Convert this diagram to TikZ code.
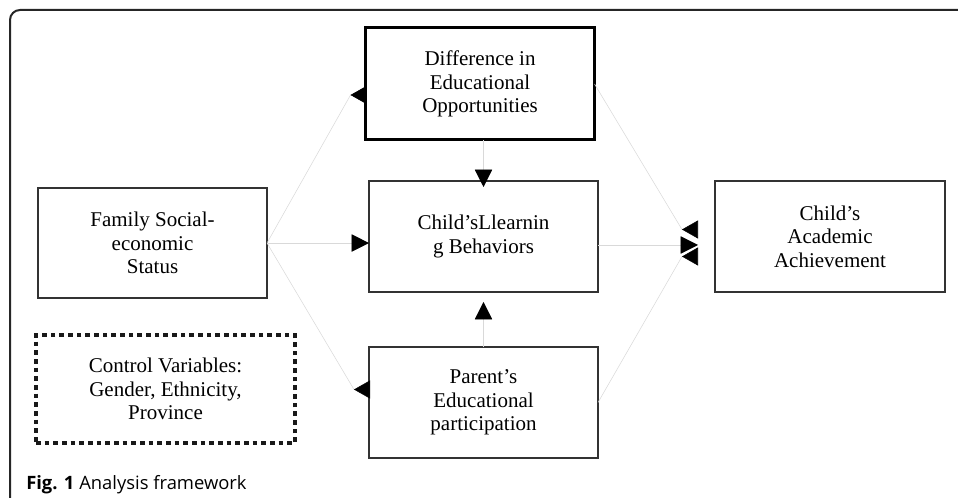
\documentclass[tikz,border=0pt]{standalone}
\usepackage{fontspec}
\setmainfont{Liberation Serif}
\newfontfamily\capfont{Open Sans}
\usetikzlibrary{arrows.meta, positioning, calc}
\tikzset{%
	box/.style={draw=black!80, line width=0.9pt, rectangle, minimum width=171.75pt,%
		minimum height=83.25pt, inner sep=0pt, outer sep=0pt, align=center,%
		font=\fontsize{15.75pt}{17.5pt}\selectfont},
	thickbox/.style={box, draw=black, line width=2.25pt, minimum height=84pt},
	ctrlbox/.style={box, draw=black!90, line width=2.5pt, dash pattern=on 3.5pt off 3pt,%
		minimum width=194.25pt, minimum height=81pt},
	connector/.style={draw=black!15, line width=0.4pt},
	fwd/.style={connector, -{Triangle[length=13pt, width=13pt, color=black]}},
	bwd/.style={connector, -{Triangle[reversed, length=12pt, width=13.5pt, color=black]}},
	frame/.style={draw=black!85, line width=1.5pt, rounded corners=7.5pt},
	caption/.style={font=\capfont\fontsize{13.8pt}{16pt}\selectfont, inner sep=0pt, anchor=west}
}
\begin{document}
\begin{tikzpicture}[x=0.75pt, y=-0.75pt]
	\clip (0,0) rectangle (958,498);
	\draw[frame] (10,10) rectangle (990,530);

	\node[box] (learn) at (483.5,236.5) {Child's\/Llearnin\\g Behaviors};
	\node[thickbox, above=30.75pt of learn, xshift=-2.6pt] (diff) {Difference in\\Educational\\Opportunities};
	\node[box, below=41.25pt of learn] (par) {Parent's\\Educational\\participation};
	\node[box, right=87.75pt of learn, minimum width=172.5pt] (acad) {Child's\\Academic\\Achievement};
	\node[box, left=76.5pt of learn, yshift=-4.9pt, minimum height=82.5pt] (fam) {Family Social-\\economic\\Status};
	\node[ctrlbox, below=27.75pt of fam, xshift=9.75pt] (ctrl) {Control Variables:\\Gender, Ethnicity,\\Province};
	\node[caption] (cap) at (26,485) {\textbf{Fig. 1} Analysis framework};

	% arrow ends in front of the outcome box
	\coordinate (a1) at ($(acad.west)+(-17,-7)$);
	\coordinate (a2) at ($(acad.west)+(-17,8.5)$);
	\coordinate (a3) at ($(acad.west)+(-17,20)$);

	\draw[bwd] (fam.east) -- ($(diff.west)+(-15,11)$) -- ($(diff.west)+(1,11)$);
	\draw[fwd] (fam.east) -- (fam.east -| learn.west);
	\draw[bwd] (fam.east) -- ($(par.west)+(-15,-13)$) -- ($(par.west)+(1,-13)$);
	\draw[fwd, shorten >=-4.5pt] (learn.north |- diff.south) -- (learn.north);
	\draw[fwd, shorten >=7.5pt] (par.north) -- (learn.south);
	\draw[bwd] (diff.east) -- ($(a1)+(-16,0)$) -- (a1);
	\draw[fwd] (learn.east |- a2) -- (a2);
	\draw[bwd] (par.east) -- ($(a3)+(-16,0)$) -- (a3);
\end{tikzpicture}
\end{document}
